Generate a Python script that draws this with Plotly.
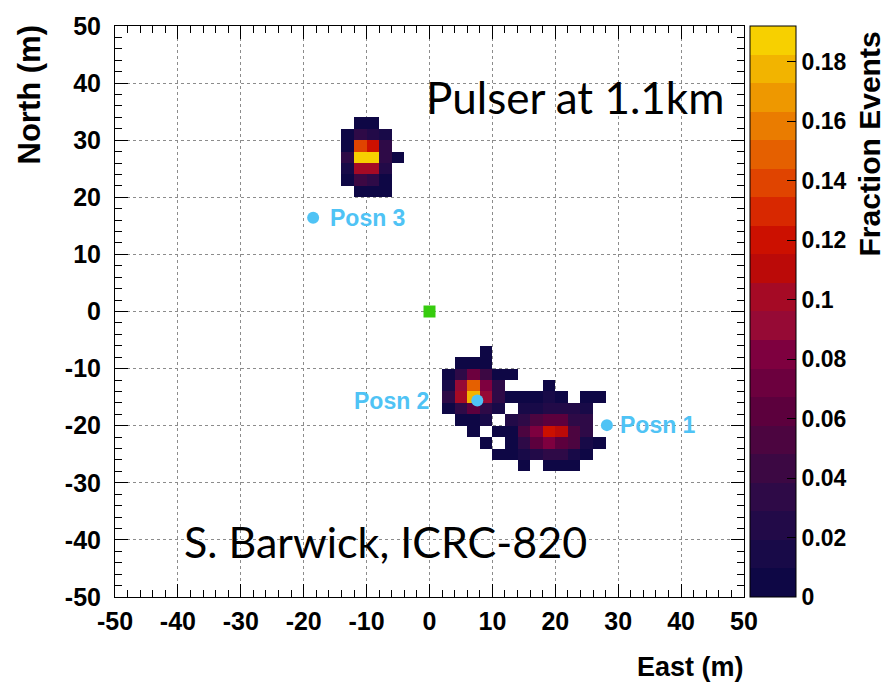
import numpy as np
import plotly.graph_objects as go

# ---- data -------------------------------------------------------------
# 2 m x 2 m bins spanning the +-50 m field
bin_edges = np.arange(-50, 52, 2)
bin_centres = bin_edges[:-1] + 1

# Reconstructed-vertex cluster near Posn 3 (lower bin edges, metres)
north_cols = [-14, -12, -10, -8, -6]
north_rows = [32, 30, 28, 26, 24, 22, 20]
north_frac = [
    [None, 0.008, 0.008, None, None],
    [0.006, 0.030, 0.028, 0.012, None],
    [0.008, 0.140, 0.120, 0.030, None],
    [0.035, 0.190, 0.185, 0.030, 0.006],
    [0.012, 0.100, 0.105, 0.020, None],
    [0.008, 0.040, 0.038, 0.008, None],
    [None, 0.006, 0.006, 0.006, None],
]

# Reconstructed-vertex clusters near Posn 2 and Posn 1
south_cols = [2, 4, 6, 8, 10, 12, 14, 16, 18, 20, 22, 24, 26]
south_rows = [-8, -10, -12, -14, -16, -18, -20, -22, -24, -26, -28]
south_frac = [
    [None, None, None, 0.006, None, None, None, None, None, None, None, None, None],
    [None, 0.008, 0.008, 0.008, None, None, None, None, None, None, None, None, None],
    [0.006, 0.030, 0.075, 0.040, 0.008, 0.008, None, None, None, None, None, None, None],
    [0.010, 0.090, 0.150, 0.085, 0.030, None, None, None, 0.006, None, None, None, None],
    [0.030, 0.100, 0.175, 0.095, 0.030, 0.008, 0.008, 0.008, 0.012, 0.008, None, 0.006, 0.006],
    [0.008, 0.035, 0.065, 0.035, 0.010, None, 0.010, 0.012, 0.025, 0.025, 0.025, 0.012, None],
    [None, 0.006, 0.008, 0.010, None, 0.025, 0.030, 0.055, 0.060, 0.060, 0.035, 0.030, None],
    [None, None, 0.006, None, 0.008, 0.008, 0.050, 0.080, 0.120, 0.115, 0.055, 0.030, None],
    [None, None, None, 0.006, None, 0.008, 0.030, 0.060, 0.080, 0.065, 0.055, 0.010, 0.006],
    [None, None, None, None, 0.006, 0.008, 0.010, 0.025, 0.030, 0.030, 0.012, 0.008, None],
    [None, None, None, None, None, None, 0.006, None, 0.008, 0.008, 0.006, None, None],
]

# Pulser positions and the station at the origin
posn_names = ["Posn 1", "Posn 2", "Posn 3"]
posn_east = [28.2, 7.6, -18.5]
posn_north = [-19.9, -15.6, 16.4]
station_east = [0.0]
station_north = [0.0]

z_max = 0.192
cbar_ticks = [0, 0.02, 0.04, 0.06, 0.08, 0.1, 0.12, 0.14, 0.16, 0.18]
cbar_labels = ["0", "0.02", "0.04", "0.06", "0.08", "0.1", "0.12", "0.14", "0.16", "0.18"]
axis_ticks = [-50, -40, -30, -20, -10, 0, 10, 20, 30, 40, 50]
axis_labels = ["-50", "-40", "-30", "-20", "-10", "0", "10", "20", "30", "40", "50"]

# 20-level palette, navy -> purple -> crimson -> red -> orange -> yellow
palette = ["#0e0745", "#180a48", "#220a48", "#2e0a47", "#3c0843",
           "#4c0540", "#5c003d", "#6c003e", "#7e003f", "#960a35",
           "#a50a25", "#bb0a08", "#cc1000", "#d82800", "#e04400",
           "#e56000", "#ea7c00", "#ee9800", "#f2b400", "#f7d000"]

# ---- build the 2D histogram --------------------------------------------
z = np.full((len(bin_centres), len(bin_centres)), np.nan)
for cols, rows, frac in ((north_cols, north_rows, north_frac),
                         (south_cols, south_rows, south_frac)):
    for r, y_lo in enumerate(rows):
        for c, x_lo in enumerate(cols):
            v = frac[r][c]
            if v is not None:
                z[(y_lo + 50) // 2, (x_lo + 50) // 2] = v

n = len(palette)
colorscale = []
for i, col in enumerate(palette):
    colorscale.append([i / n, col])
    colorscale.append([(i + 1) / n, col])

# ---- layout helpers -----------------------------------------------------
W, H = 886, 688
L, R, T, B = 115, 142, 24, 91
PW, PH = W - L - R, H - T - B


def px_x(px):
    return (px - L) / PW


def px_y(py):
    return (H - B - py) / PH


SANS = "Liberation Sans, Arial, sans-serif"


def bold(size, color="black"):
    return dict(family=SANS, size=size, color=color, weight="bold")


blue = "#4fc3f5"

fig = go.Figure()

fig.add_trace(go.Heatmap(
    x=bin_centres, y=bin_centres, z=z,
    zmin=0, zmax=z_max, colorscale=colorscale,
    hoverongaps=False,
    colorbar=dict(
        x=px_x(750), xanchor="left", xpad=0,
        y=0.5, yanchor="middle", ypad=0, len=1, lenmode="fraction",
        thickness=46, outlinewidth=1, outlinecolor="black",
        tickvals=cbar_ticks, ticktext=cbar_labels,
        ticks="inside", ticklen=9, tickcolor="black",
        tickfont=bold(23),
    ),
))

# station at the origin
fig.add_trace(go.Scatter(
    x=station_east, y=station_north, mode="markers",
    marker=dict(symbol="square", size=12, color="#36cc0e"),
    showlegend=False, hoverinfo="skip",
))

# pulser positions
fig.add_trace(go.Scatter(
    x=posn_east, y=posn_north, mode="markers",
    marker=dict(symbol="circle", size=12, color=blue),
    showlegend=False, hoverinfo="skip",
))

label_style = {
    "Posn 1": dict(xanchor="left", xshift=11),
    "Posn 2": dict(xanchor="right", xshift=-46),
    "Posn 3": dict(xanchor="left", xshift=15),
}
annotations = []
for name, ex, ny in zip(posn_names, posn_east, posn_north):
    annotations.append(dict(
        x=ex, y=ny, xref="x", yref="y", text=name, showarrow=False,
        yanchor="middle", font=bold(23, blue), **label_style[name]))

annotations += [
    dict(x=px_x(30), y=px_y(22), xref="paper", yref="paper", text="North (m)",
         textangle=-90, showarrow=False, xanchor="center", yanchor="top", font=bold(31)),
    dict(x=px_x(746), y=px_y(667), xref="paper", yref="paper", text="East (m)",
         showarrow=False, xanchor="right", yanchor="middle", font=bold(27)),
    dict(x=px_x(869), y=px_y(28), xref="paper", yref="paper", text="Fraction Events",
         textangle=-90, showarrow=False, xanchor="center", yanchor="top", font=bold(30)),
    dict(x=px_x(424), y=px_y(95), xref="paper", yref="paper", text="Pulser at 1.1km",
         showarrow=False, xanchor="left", yanchor="middle",
         font=dict(family="Lato, sans-serif", size=44, color="black")),
    dict(x=px_x(182), y=px_y(541), xref="paper", yref="paper", text="S. Barwick, ICRC-820",
         showarrow=False, xanchor="left", yanchor="middle",
         font=dict(family="Lato, sans-serif", size=43, color="black")),
]

axis_common = dict(
    range=[-50, 50], tickvals=axis_ticks, ticktext=axis_labels,
    ticks="inside", ticklen=13, tickcolor="black", tickwidth=1,
    minor=dict(ticks="inside", ticklen=7, dtick=2, tick0=0, tickcolor="black", showgrid=False),
    showgrid=True, gridcolor="#8c8c8c", griddash="dot", gridwidth=1,
    zeroline=False, showline=True, linecolor="black", linewidth=1, mirror="allticks",
    tickfont=bold(25), fixedrange=True,
)

fig.update_layout(
    width=W, height=H,
    margin=dict(l=L, r=R, t=T, b=B, pad=0),
    paper_bgcolor="white", plot_bgcolor="white",
    xaxis=dict(axis_common, ticklabelstandoff=2),
    yaxis=dict(axis_common, ticklabelstandoff=8),
    annotations=annotations,
    showlegend=False,
)

fig.write_html("out.html")
